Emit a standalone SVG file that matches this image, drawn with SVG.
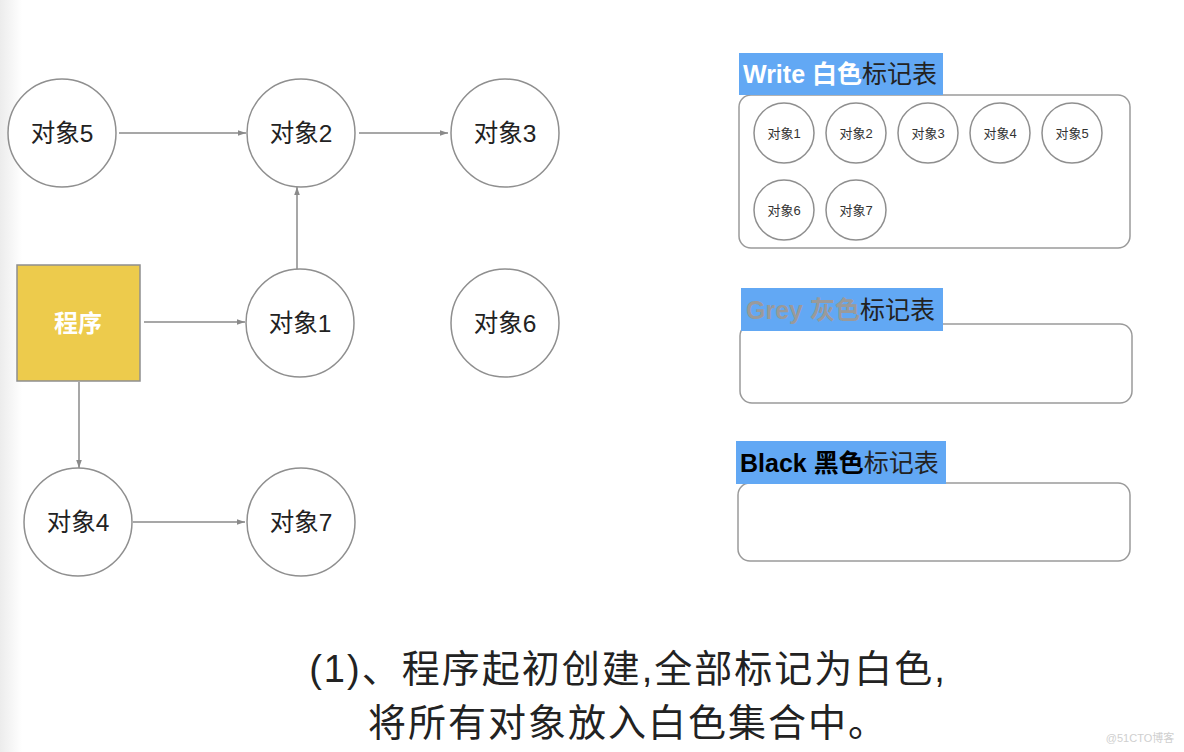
<svg xmlns="http://www.w3.org/2000/svg" width="1184" height="752" viewBox="0 0 1184 752">
<style>
text{font-family:"Liberation Sans","Noto Sans CJK SC",sans-serif}
.node{fill:#fff;stroke:#8f8f8f;stroke-width:1.5}
.lbl{font-size:24.5px;fill:#222;text-anchor:middle;dominant-baseline:central}
.sm{font-size:13px;fill:#333;text-anchor:middle;dominant-baseline:central}
.conn{stroke:#8a8a8a;stroke-width:1.5;fill:none;marker-end:url(#ah)}
.box{fill:#fff;stroke:#9a9a9a;stroke-width:1.5}
.tag{fill:#62a8f4}
.tt{font-size:25px}
.b{font-weight:bold}
.cap{font-size:38px;fill:#222;text-anchor:middle;letter-spacing:2px}
</style>
<defs>
<marker id="ah" viewBox="0 0 10 10" refX="10" refY="5" markerWidth="8" markerHeight="8" orient="auto" markerUnits="userSpaceOnUse">
<path d="M0,1.5 L10,5 L0,8.5 Z" fill="#8a8a8a"/>
</marker>
<linearGradient id="edge" x1="0" y1="0" x2="1" y2="0">
<stop offset="0" stop-color="#ececec"/>
<stop offset="1" stop-color="#ffffff"/>
</linearGradient>
</defs>
<rect x="0" y="0" width="1184" height="752" fill="#fff"/>
<rect x="0" y="0" width="22" height="752" fill="url(#edge)"/>

<g id="connectors">
<line class="conn" x1="119" y1="133" x2="246" y2="133"/>
<line class="conn" x1="359" y1="133" x2="448" y2="133"/>
<line class="conn" x1="297" y1="269" x2="297" y2="187"/>
<line class="conn" x1="144" y1="322" x2="245" y2="322"/>
<line class="conn" x1="79" y1="382" x2="79" y2="468"/>
<line class="conn" x1="133" y1="522" x2="245" y2="522"/>
</g>

<g id="obj5"><circle class="node" cx="62" cy="133" r="54"/><text class="lbl" x="62" y="133">对象5</text></g>
<g id="obj2"><circle class="node" cx="301" cy="133" r="54"/><text class="lbl" x="301" y="133">对象2</text></g>
<g id="obj3"><circle class="node" cx="505" cy="133" r="54"/><text class="lbl" x="505" y="133">对象3</text></g>
<g id="program"><rect x="17" y="265" width="123" height="116" fill="#edcb4c" stroke="#8f8f8f" stroke-width="1.5"/><text class="lbl" x="78" y="323" style="fill:#fff;font-weight:bold;font-size:24px">程序</text></g>
<g id="obj1"><circle class="node" cx="300" cy="323" r="54"/><text class="lbl" x="300" y="323">对象1</text></g>
<g id="obj6"><circle class="node" cx="505" cy="323" r="54"/><text class="lbl" x="505" y="323">对象6</text></g>
<g id="obj4"><circle class="node" cx="78" cy="522" r="54"/><text class="lbl" x="78" y="522">对象4</text></g>
<g id="obj7"><circle class="node" cx="301" cy="522" r="54"/><text class="lbl" x="301" y="522">对象7</text></g>

<g id="white-table">
<rect class="box" x="739" y="95" width="391" height="153" rx="12"/>
<rect class="tag" x="739" y="53" width="204" height="42"/>
<text class="tt" x="743" y="83"><tspan class="b" fill="#fff">Write 白色</tspan><tspan fill="#222">标记表</tspan></text>
<g id="w1"><circle class="node" cx="784" cy="133" r="30"/><text class="sm" x="784" y="133">对象1</text></g>
<g id="w2"><circle class="node" cx="856" cy="133" r="30"/><text class="sm" x="856" y="133">对象2</text></g>
<g id="w3"><circle class="node" cx="928" cy="133" r="30"/><text class="sm" x="928" y="133">对象3</text></g>
<g id="w4"><circle class="node" cx="1000" cy="133" r="30"/><text class="sm" x="1000" y="133">对象4</text></g>
<g id="w5"><circle class="node" cx="1072" cy="133" r="30"/><text class="sm" x="1072" y="133">对象5</text></g>
<g id="w6"><circle class="node" cx="784" cy="210" r="30"/><text class="sm" x="784" y="210">对象6</text></g>
<g id="w7"><circle class="node" cx="856" cy="210" r="30"/><text class="sm" x="856" y="210">对象7</text></g>
</g>

<g id="grey-table">
<rect class="box" x="740" y="324" width="392" height="79" rx="12"/>
<rect class="tag" x="741" y="288" width="202" height="43"/>
<text class="tt" x="746" y="319"><tspan class="b" fill="#9a9a9a">Grey 灰色</tspan><tspan fill="#222">标记表</tspan></text>
</g>

<g id="black-table">
<rect class="box" x="738" y="483" width="392" height="78" rx="12"/>
<rect class="tag" x="736" y="441" width="210" height="43"/>
<text class="tt" x="740" y="472"><tspan class="b" fill="#000">Black 黑色</tspan><tspan fill="#222">标记表</tspan></text>
</g>

<g id="caption">
<text class="cap" x="628" y="682">(1)、程序起初创建,全部标记为白色,</text>
<text class="cap" x="628" y="736">将所有对象放入白色集合中。</text>
</g>
<text x="1140" y="742" font-size="11" fill="#cfcfcf" text-anchor="middle">@51CTO博客</text>
</svg>
